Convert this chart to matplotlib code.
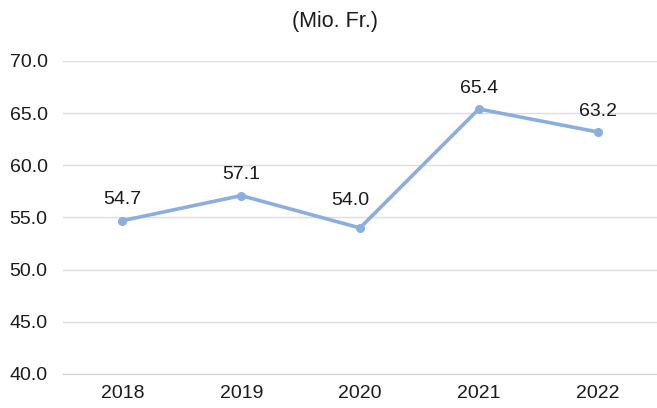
import matplotlib
matplotlib.use("Agg")
import matplotlib.pyplot as plt

years = ["2018", "2019", "2020", "2021", "2022"]
values = [54.7, 57.1, 54.0, 65.4, 63.2]
yticks = [40.0, 45.0, 50.0, 55.0, 60.0, 65.0, 70.0]

plt.rcParams['font.family'] = ['Liberation Sans', 'DejaVu Sans']

fig = plt.figure(figsize=(6.57, 4.08), dpi=100)
ax = fig.add_axes([63/657, 1-374/408, 1-63/657, (374-61)/408])

x = list(range(len(years)))
ax.plot(x, values, color='#8AAEE0', lw=2.6, marker='o', ms=5.5, zorder=3)
label_offsets = {2: (-7, 20)}  # label nudged to avoid the line at the dip
for xi, v in zip(x, values):
    off = label_offsets.get(xi, (0, 15))
    ax.annotate(f"{v:.1f}", (xi, v), xytext=off, textcoords='offset points',
                ha='center', va='center', fontsize=14, color='#1a1a1a')

ax.set_xlim(-0.5, len(years)-0.5)
ax.set_ylim(40, 70)
ax.set_yticks(yticks)
ax.set_yticklabels([f"{t:.1f}" for t in yticks], fontsize=14, color='#1a1a1a')
ax.set_xticks(x)
ax.set_xticklabels(years, fontsize=14, color='#1a1a1a')
ax.grid(axis='y', color='#DDDDDD', lw=1)
ax.set_axisbelow(True)
for s in ['top', 'right', 'left']:
    ax.spines[s].set_visible(False)
ax.spines['bottom'].set_color('#D0D0D0')
ax.tick_params(length=0)
ax.tick_params(axis='y', pad=11)
ax.tick_params(axis='x', pad=8)

fig.text(335/657, 1-22/408, "(Mio. Fr.)", ha='center', va='center', fontsize=15.5, color='#1a1a1a')

fig.savefig("out.png", dpi=100)
